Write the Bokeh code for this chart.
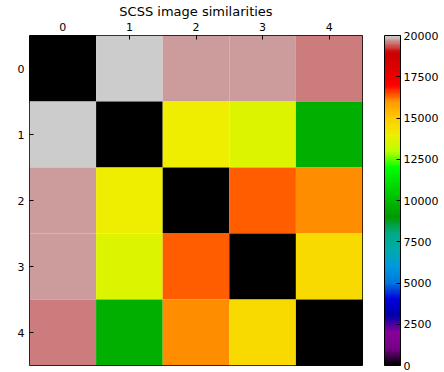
import numpy as np
from bokeh.plotting import figure
from bokeh.models import (ColumnDataSource, LinearColorMapper, ColorBar,
                          Range1d, FixedTicker)
from bokeh.embed import file_html
from bokeh.resources import INLINE

# ---- data ----
labels = ["0", "1", "2", "3", "4"]
row0 = [0, 20000, 19750, 19750, 19580]
row1 = [20000, 0, 14000, 13600, 9680]
row2 = [19750, 14000, 0, 16370, 16060]
row3 = [19750, 13600, 16370, 0, 14550]
row4 = [19580, 9680, 16060, 14550, 0]
rows = [row0, row1, row2, row3, row4]
cbar_ticks = [0, 2500, 5000, 7500, 10000, 12500, 15000, 17500, 20000]

# ---- nipy_spectral colormap (256 colours) ----
_r = [(0.0, 0.0), (0.05, 0.4667), (0.10, 0.5333), (0.15, 0.0), (0.20, 0.0),
      (0.25, 0.0), (0.30, 0.0), (0.35, 0.0), (0.40, 0.0), (0.45, 0.0),
      (0.50, 0.0), (0.55, 0.0), (0.60, 0.0), (0.65, 0.7333), (0.70, 0.9333),
      (0.75, 1.0), (0.80, 1.0), (0.85, 1.0), (0.90, 0.8667), (0.95, 0.80),
      (1.0, 0.80)]
_g = [(0.0, 0.0), (0.05, 0.0), (0.10, 0.0), (0.15, 0.0), (0.20, 0.0),
      (0.25, 0.4667), (0.30, 0.6000), (0.35, 0.6667), (0.40, 0.6667),
      (0.45, 0.6000), (0.50, 0.7333), (0.55, 0.8667), (0.60, 1.0),
      (0.65, 1.0), (0.70, 0.9333), (0.75, 0.8000), (0.80, 0.6000),
      (0.85, 0.0), (0.90, 0.0), (0.95, 0.0), (1.0, 0.80)]
_b = [(0.0, 0.0), (0.05, 0.5333), (0.10, 0.6000), (0.15, 0.6667),
      (0.20, 0.8667), (0.25, 0.8667), (0.30, 0.8667), (0.35, 0.6667),
      (0.40, 0.5333), (0.45, 0.0), (0.5, 0.0), (0.55, 0.0), (0.60, 0.0),
      (0.65, 0.0), (0.70, 0.0), (0.75, 0.0), (0.80, 0.0), (0.85, 0.0),
      (0.90, 0.0), (0.95, 0.0), (1.0, 0.80)]


def _chan(seg, t):
    xs = [s[0] for s in seg]
    ys = [s[1] for s in seg]
    return np.interp(t, xs, ys)


_t = np.linspace(0, 1, 256)
palette = ["#%02x%02x%02x" % (int(round(255 * _chan(_r, t))),
                              int(round(255 * _chan(_g, t))),
                              int(round(255 * _chan(_b, t)))) for t in _t]

xs, ys, vals = [], [], []
for i, row in enumerate(rows):
    for j, v in enumerate(row):
        xs.append(j)
        ys.append(i)
        vals.append(v)
src = ColumnDataSource(dict(x=xs, y=ys, v=vals))

mapper = LinearColorMapper(palette=palette, low=0, high=20000)

p = figure(width=444, height=372, output_backend="svg", toolbar_location=None,
           x_range=Range1d(-0.5, 4.5), y_range=Range1d(4.5, -0.5),
           x_axis_location="above", title="SCSS image similarities",
           min_border_left=29, min_border_top=1, min_border_bottom=7,
           min_border_right=82)
p.rect(x="x", y="y", width=1, height=1, source=src,
       fill_color={"field": "v", "transform": mapper}, line_color=None)

p.xgrid.visible = False
p.ygrid.visible = False
p.outline_line_color = "black"
p.outline_line_width = 1
p.outline_line_alpha = 1
p.background_fill_color = "white"

p.title.align = "center"
p.title.text_font = "DejaVu Sans"
p.title.text_font_size = "13px"
p.title.text_font_style = "normal"
p.title.text_color = "black"
p.title.standoff = 2

for ax in (p.xaxis[0], p.yaxis[0]):
    ax.ticker = FixedTicker(ticks=[0, 1, 2, 3, 4])
    ax.major_label_overrides = {i: labels[i] for i in range(5)}
    ax.major_label_text_font = "DejaVu Sans"
    ax.major_label_text_font_size = "11px"
    ax.major_label_text_color = "black"
    ax.major_tick_in = 4
    ax.major_tick_out = 0
    ax.minor_tick_line_color = None
    ax.axis_line_color = None
    ax.major_tick_line_color = "black"
    ax.major_label_standoff = 5

cb = ColorBar(color_mapper=mapper, width=16,
              ticker=FixedTicker(ticks=cbar_ticks),
              major_label_text_font="DejaVu Sans",
              major_label_text_font_size="11px",
              major_label_text_color="black",
              major_tick_in=4, major_tick_out=0,
              major_tick_line_color="black",
              minor_tick_line_color=None,
              bar_line_color="black", bar_line_width=1,
              label_standoff=3, padding=0, margin=0,
              location=(22, 0))
p.add_layout(cb, "right")

open("out.html", "w").write(file_html(p, INLINE))
